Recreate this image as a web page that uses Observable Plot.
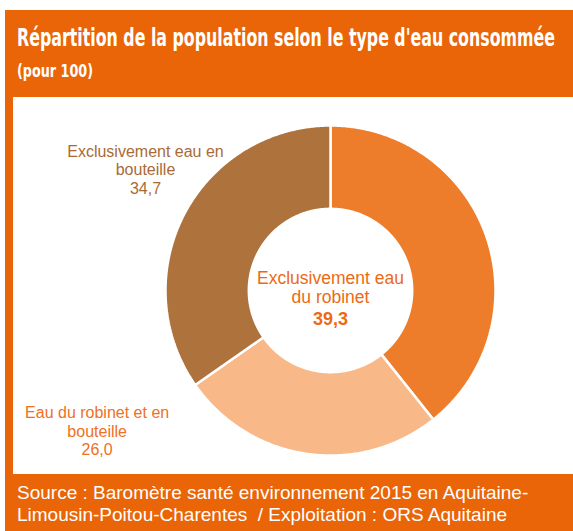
<!DOCTYPE html>
<html>
<head>
<meta charset="utf-8">
<script src="https://cdn.jsdelivr.net/npm/d3@7"></script>
<script src="https://cdn.jsdelivr.net/npm/@observablehq/plot@0.6"></script>
<style>
  html, body { margin: 0; padding: 0; background: #ffffff; width: 573px; height: 531px; overflow: hidden; }
  #frame { position: absolute; left: 5px; top: 10px; width: 568px; height: 521px; background: #E96508; }
  .htext { position: absolute; left: 12px; color: #ffffff; font-weight: bold; white-space: nowrap;
           font-family: "DejaVu Sans Condensed", "DejaVu Sans", sans-serif; font-stretch: condensed;
           transform-origin: 0 0; line-height: 1; }
  #title { top: 15px; font-size: 25px; }
  #subtitle { top: 52px; font-size: 18px; }
  #panel { position: absolute; left: 8px; top: 87px; width: 560px; height: 377px; background: #ffffff; }
  #foot { position: absolute; left: 12px; top: 472px; width: 556px; color: #ffffff;
          font-family: "Liberation Sans", Arial, sans-serif; font-size: 19px; line-height: 22px; }
</style>
</head>
<body>
<div id="frame">
  <div id="title" class="htext"></div>
  <div id="subtitle" class="htext"></div>
  <div id="panel"></div>
  <div id="foot"></div>
</div>
<script>
// ---- Data ----
const title = "Répartition de la population selon le type d'eau consommée";
const subtitle = "(pour 100)";
const sourceLines = ["Source : Baromètre santé environnement 2015 en Aquitaine-", "Limousin-Poitou-Charentes  / Exploitation : ORS Aquitaine"];
const categories = ["Exclusivement eau du robinet", "Eau du robinet et en bouteille", "Exclusivement eau en bouteille"];
const values = [39.3, 26.0, 34.7];
const valueLabels = ["39,3", "26,0", "34,7"];
const labelLines = [["Exclusivement eau", "du robinet"], ["Eau du robinet et en", "bouteille"], ["Exclusivement eau en", "bouteille"]];

// ---- Styles / layout ----
const sliceColors = ["#EE7D2B", "#F8B887", "#AE723C"];
const textColors = ["#EC6A15", "#EF7023", "#A86B37"];
const innerRadius = 0.495;
// label anchor in polar form (degrees clockwise from top, radius in outer-radius units)
const labelPolar = [[0, 0], [239, 1.65], [303.2, 1.34]];

function fitText(id, txt, targetWidth) {
  const el = document.getElementById(id);
  el.textContent = txt;
  const w = el.getBoundingClientRect().width;
  el.style.transform = `scaleX(${targetWidth / w})`;
}
fitText("title", title, 538);
fitText("subtitle", subtitle, 76);
document.getElementById("foot").innerHTML = sourceLines.map(s => `<div style="white-space:pre">${s}</div>`).join("");

// ---- Build ring polygons from values ----
const total = d3.sum(values);
const rows = [];
let acc = 0;
categories.forEach((c, i) => {
  const a0 = acc / total * 2 * Math.PI;
  acc += values[i];
  const a1 = acc / total * 2 * Math.PI;
  const n = Math.max(4, Math.ceil((a1 - a0) / (2 * Math.PI) * 720));
  const pts = [];
  for (let k = 0; k <= n; k++) {
    const t = a0 + (a1 - a0) * k / n;
    pts.push({cat: c, x: Math.sin(t), y: Math.cos(t)});
  }
  for (let k = n; k >= 0; k--) {
    const t = a0 + (a1 - a0) * k / n;
    pts.push({cat: c, x: innerRadius * Math.sin(t), y: innerRadius * Math.cos(t)});
  }
  pts.push({...pts[0]});
  rows.push(...pts);
});

const labels = categories.map((c, i) => {
  const [deg, r] = labelPolar[i];
  const t = deg * Math.PI / 180;
  return {cat: c, x: r * Math.sin(t), y: r * Math.cos(t), i};
});
const outer = labels.filter(d => d.i > 0);
const center = labels.filter(d => d.i === 0);

const cx = 317, cy = 193, R = 165;
const chart = Plot.plot({
  width: 560,
  height: 377,
  margin: 0,
  x: {domain: [-1, 1], range: [cx - R, cx + R], axis: null},
  y: {domain: [-1, 1], range: [cy + R, cy - R], axis: null},
  color: {domain: categories, range: sliceColors},
  style: {background: "transparent", fontFamily: "'Liberation Sans', Arial, sans-serif"},
  marks: [
    Plot.line(rows, {x: "x", y: "y", z: "cat", fill: "cat", stroke: "#ffffff", strokeWidth: 2.5, strokeLinejoin: "miter"}),
    Plot.text(outer, {
      x: "x", y: "y",
      text: d => labelLines[d.i].join("\n") + "\n" + valueLabels[d.i],
      fill: d => textColors[d.i],
      fontSize: 16, lineHeight: 1.16, lineAnchor: "middle", textAnchor: "middle"
    }),
    Plot.text(center, {
      x: "x", y: "y", dy: -3,
      text: d => labelLines[d.i].join("\n"),
      fill: textColors[0],
      fontSize: 17.5, lineHeight: 1.1, lineAnchor: "middle", textAnchor: "middle"
    }),
    Plot.text(center, {
      x: "x", y: "y", dy: 29,
      text: d => valueLabels[d.i],
      fill: textColors[0],
      fontSize: 18, fontWeight: "bold", lineAnchor: "middle", textAnchor: "middle"
    })
  ]
});
document.getElementById("panel").appendChild(chart);
</script>
</body>
</html>
